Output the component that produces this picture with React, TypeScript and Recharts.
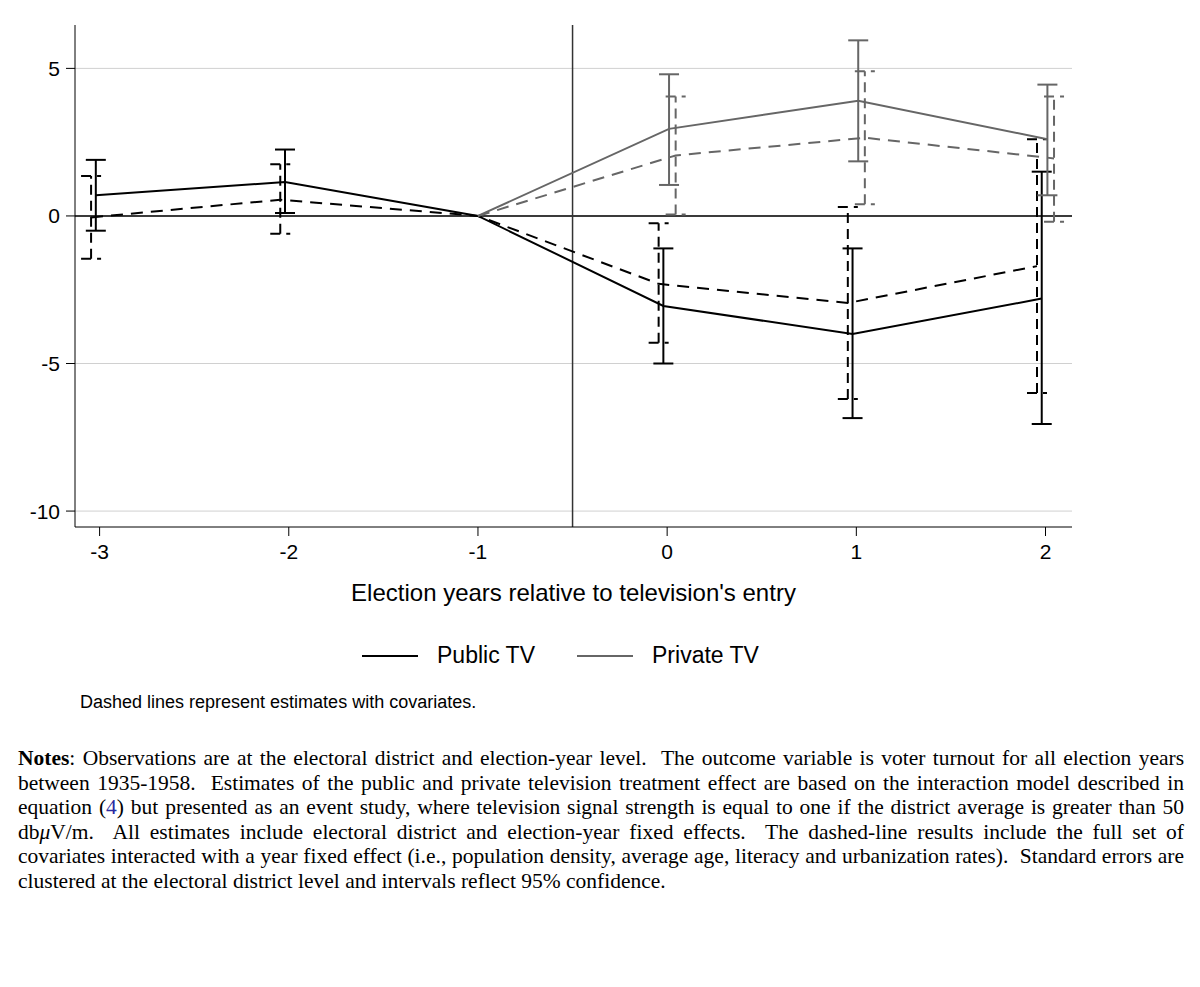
import { LineChart, Line, XAxis, YAxis, CartesianGrid, ReferenceLine, ErrorBar } from "recharts";

const periods = [-3, -2, -1, 0, 1, 2];
const privatePeriods = [-1, 0, 1, 2];

const publicEst = [0.7, 1.15, 0, -3.05, -4.0, -2.8];
const publicLo = [-0.5, 0.1, 0, -5.0, -6.85, -7.05];
const publicHi = [1.9, 2.25, 0, -1.1, -1.1, 1.5];

const publicCovEst = [-0.05, 0.55, 0, -2.3, -2.95, -1.7];
const publicCovLo = [-1.45, -0.6, 0, -4.3, -6.2, -6.0];
const publicCovHi = [1.35, 1.75, 0, -0.25, 0.3, 2.6];

const privateEst = [0, 2.95, 3.9, 2.6];
const privateLo = [0, 1.05, 1.85, 0.7];
const privateHi = [0, 4.8, 5.95, 4.45];

const privateCovEst = [0, 2.05, 2.65, 1.95];
const privateCovLo = [0, 0.05, 0.4, -0.2];
const privateCovHi = [0, 4.05, 4.9, 4.05];

const yTicks = [5, 0, -5, -10];

function build(xs: number[], est: number[], lo: number[], hi: number[], shift: number) {
  return xs.map((x, i) => ({
    x: x === -1 ? x : x + shift,
    y: est[i],
    err: x === -1 ? undefined : [est[i] - lo[i], hi[i] - est[i]],
  }));
}

const publicData = build(periods, publicEst, publicLo, publicHi, -0.02);
const publicCovData = build(periods, publicCovEst, publicCovLo, publicCovHi, -0.045);
const privateData = build(privatePeriods, privateEst, privateLo, privateHi, 0.01);
const privateCovData = build(privatePeriods, privateCovEst, privateCovLo, privateCovHi, 0.045);

const tickStyle = { fontSize: 21, fill: "#000", fontFamily: "Liberation Sans" };
const serif = "'Liberation Serif', serif";

export default function App() {
  return (
    <div style={{ position: "absolute", left: 0, top: 0, width: 1200, height: 987, background: "#fff" }}>
      <LineChart width={1100} height={580} margin={{ top: 25, right: 28, left: 0, bottom: 0 }}>
        <CartesianGrid vertical={false} horizontalValues={yTicks} stroke="#d0d0d0" />
        <XAxis
          type="number"
          dataKey="x"
          domain={[-3.13, 2.14]}
          ticks={periods}
          allowDataOverflow
          tick={tickStyle}
          fontSize={21}
          tickSize={9}
          tickMargin={8}
          stroke="#000"
          height={53}
        />
        <YAxis
          type="number"
          domain={[-10.54, 6.47]}
          ticks={yTicks}
          allowDataOverflow
          tick={tickStyle}
          fontSize={21}
          tickSize={9}
          tickMargin={6}
          width={75}
          stroke="#000"
        />
        <ReferenceLine y={0} stroke="#000" strokeWidth={1.5} />
        <ReferenceLine x={-0.5} stroke="#333" strokeWidth={1.5} />
        <Line data={publicData} dataKey="y" stroke="#000" strokeWidth={2} dot={false} isAnimationActive={false}>
          <ErrorBar dataKey="err" direction="y" width={10} stroke="#000" strokeWidth={2} />
        </Line>
        <Line data={publicCovData} dataKey="y" stroke="#000" strokeWidth={2} strokeDasharray="12 8" dot={false} isAnimationActive={false}>
          <ErrorBar dataKey="err" direction="y" width={10} stroke="#000" strokeWidth={2} strokeDasharray="10 6" />
        </Line>
        <Line data={privateData} dataKey="y" stroke="#666" strokeWidth={2} dot={false} isAnimationActive={false}>
          <ErrorBar dataKey="err" direction="y" width={10} stroke="#666" strokeWidth={2} />
        </Line>
        <Line data={privateCovData} dataKey="y" stroke="#666" strokeWidth={2} strokeDasharray="12 8" dot={false} isAnimationActive={false}>
          <ErrorBar dataKey="err" direction="y" width={10} stroke="#666" strokeWidth={2} strokeDasharray="10 6" />
        </Line>
      </LineChart>
      <div style={{ position: "absolute", left: 75, width: 997, top: 579, textAlign: "center", fontFamily: "Liberation Sans", fontSize: 24 }}>
        Election years relative to television's entry
      </div>
      <div style={{ position: "absolute", left: 362, top: 642, fontFamily: "Liberation Sans", fontSize: 23, display: "flex", alignItems: "center" }}>
        <span style={{ display: "inline-block", width: 56, height: 2, background: "#000", marginRight: 19 }} />
        <span style={{ marginRight: 42 }}>Public TV</span>
        <span style={{ display: "inline-block", width: 56, height: 2, background: "#666", marginRight: 19 }} />
        <span>Private TV</span>
      </div>
      <div style={{ position: "absolute", left: 80, top: 692, fontFamily: "Liberation Sans", fontSize: 18 }}>
        Dashed lines represent estimates with covariates.
      </div>
      <div style={{ position: "absolute", left: 18, width: 1166, top: 746, fontFamily: serif, fontSize: 21.5, lineHeight: "24.5px", textAlign: "justify", whiteSpace: "pre-wrap" }}>
        <b>Notes</b>: Observations are at the electoral district and election-year level.  The outcome variable is voter turnout for all election years between 1935-1958.  Estimates of the public and private television treatment effect are based on the interaction model described in equation (<span style={{ color: "#2a2aa0" }}>4</span>) but presented as an event study, where television signal strength is equal to one if the district average is greater than 50 db<i>μ</i>V/m.  All estimates include electoral district and election-year fixed effects.  The dashed-line results include the full set of covariates interacted with a year fixed effect (i.e., population density, average age, literacy and urbanization rates).  Standard errors are clustered at the electoral district level and intervals reflect 95% confidence.
      </div>
    </div>
  );
}
